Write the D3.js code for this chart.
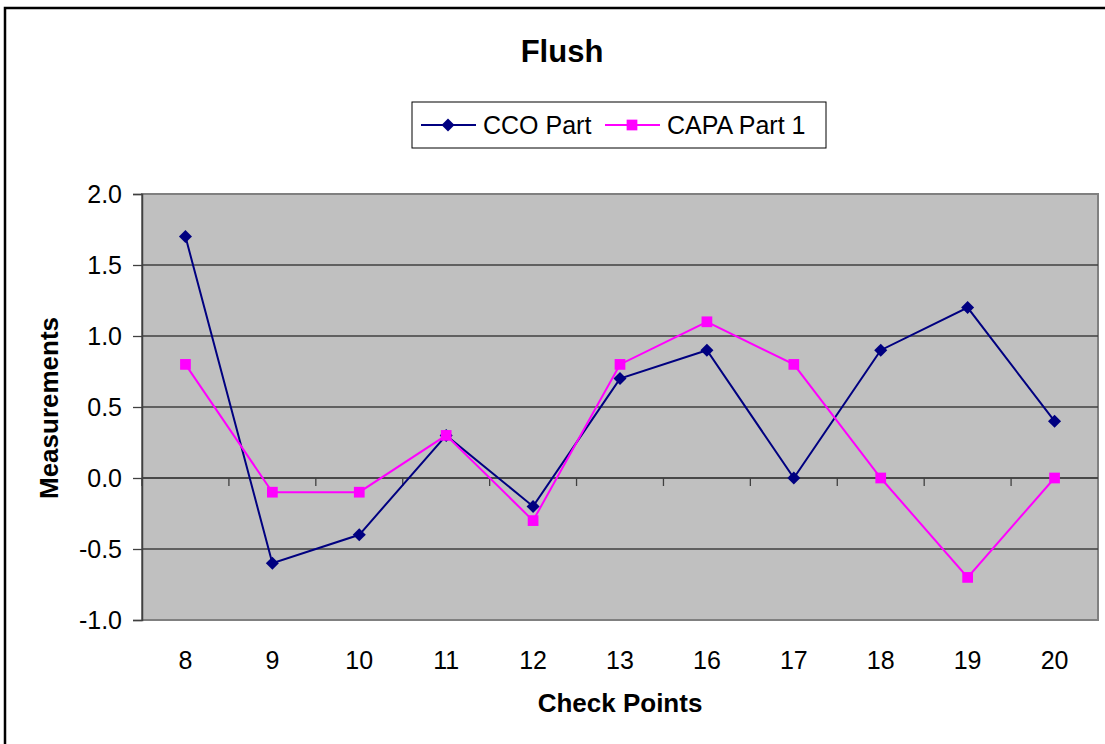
<!DOCTYPE html>
<html>
<head>
<meta charset="utf-8">
<script src="https://cdn.jsdelivr.net/npm/d3@7"></script>
<style>
	body{margin:0;background:#fff;}
	svg{display:block;font-family:"Liberation Sans",Arial,sans-serif;}
</style>
</head>
<body>
<svg id="graf" width="1105" height="744"></svg>
<script>
// datos del grafico
var puntos = ["8","9","10","11","12","13","16","17","18","19","20"];
var cco = [1.7,-0.6,-0.4,0.3,-0.2,0.7,0.9,0.0,0.9,1.2,0.4];
var capa = [0.8,-0.1,-0.1,0.3,-0.3,0.8,1.1,0.8,0.0,-0.7,0.0];
var yTicks = [-1.0,-0.5,0.0,0.5,1.0,1.5,2.0];

var lien = d3.select('#graf');

// marco exterior
lien.append("rect")
	.attr("x",5).attr("y",8)
	.attr("width",1120).attr("height",760)
	.attr("fill","#fff")
	.attr("stroke","black")
	.attr("stroke-width",2.5);

var izq=142, der=1098, arr=194, aba=620;

var x = d3.scaleBand().domain(puntos).range([izq,der]);
var y = d3.scaleLinear().domain([-1,2]).range([aba,arr]);

// fondo del area
lien.append("rect")
	.attr("x",izq).attr("y",arr)
	.attr("width",der-izq).attr("height",aba-arr)
	.attr("fill","#c0c0c0")
	.attr("stroke","#808080")
	.attr("stroke-width",2);

// lineas de rejilla
lien.append("g").selectAll("line")
	.data(yTicks.filter(function(d){return d>-1 && d<2;}))
	.enter().append("line")
	.attr("x1",izq).attr("x2",der)
	.attr("y1",function(d){return y(d);})
	.attr("y2",function(d){return y(d);})
	.attr("stroke","#404040")
	.attr("stroke-width",1.3);

// eje y
var fmt = d3.format(".1f");
var ejeY = lien.append("g")
	.attr("transform","translate("+izq+",0)")
	.call(d3.axisLeft(y).tickValues(yTicks)
		.tickFormat(function(d){return fmt(d).replace("\u2212","-");})
		.tickSize(9).tickPadding(11));
ejeY.attr("font-size",null).attr("font-family",null);
ejeY.select(".domain").attr("stroke","#404040").attr("stroke-width",1.5);
ejeY.selectAll(".tick line").attr("stroke","#404040").attr("stroke-width",1.3);
ejeY.selectAll("text").style("font-size","25px").attr("fill","black");

// eje x en el cero
var ejeX = lien.append("g")
	.attr("transform","translate(0,"+y(0)+")");
ejeX.append("line")
	.attr("x1",izq).attr("x2",der)
	.attr("y1",0).attr("y2",0)
	.attr("stroke","#404040").attr("stroke-width",1.5);
ejeX.selectAll("line.t")
	.data(puntos)
	.enter().append("line")
	.attr("class","t")
	.attr("x1",function(d){return x(d);})
	.attr("x2",function(d){return x(d);})
	.attr("y1",0).attr("y2",8)
	.attr("stroke","#404040").attr("stroke-width",1.3);

lien.append("g").selectAll("text")
	.data(puntos)
	.enter().append("text")
	.attr("x",function(d){return x(d)+x.bandwidth()/2;})
	.attr("y",669)
	.attr("text-anchor","middle")
	.style("font-size","25px")
	.text(function(d){return d;});

// marcadores
var rombo = d3.symbol().type(d3.symbolSquare).size(85);
var cuadro = d3.symbol().type(d3.symbolSquare).size(115);

// series
function serie(datos,color,simbolo,giro){
	var linea = d3.line()
		.x(function(d,i){return x(puntos[i])+x.bandwidth()/2;})
		.y(function(d){return y(d);});
	lien.append("path")
		.datum(datos)
		.attr("d",linea)
		.attr("fill","none")
		.attr("stroke",color)
		.attr("stroke-width",2);
	lien.append("g").selectAll("path")
		.data(datos)
		.enter().append("path")
		.attr("transform",function(d,i){return "translate("+(x(puntos[i])+x.bandwidth()/2)+","+y(d)+") rotate("+giro+")";})
		.attr("d",simbolo)
		.attr("fill",color);
}
serie(cco,"#000080",rombo,45);
serie(capa,"#ff00ff",cuadro,0);

// titulo
lien.append("text")
	.attr("x",562).attr("y",62)
	.attr("text-anchor","middle")
	.style("font-size","31px").attr("font-weight","bold")
	.text("Flush");

// leyenda
var ley = lien.append("g");
ley.append("rect")
	.attr("x",412).attr("y",102)
	.attr("width",414).attr("height",46)
	.attr("fill","#fff").attr("stroke","black").attr("stroke-width",1);
var items=[{n:"CCO Part",c:"#000080",s:rombo,g:45,x:421,t:483},{n:"CAPA Part 1",c:"#ff00ff",s:cuadro,g:0,x:605,t:667}];
items.forEach(function(it){
	ley.append("line")
		.attr("x1",it.x).attr("x2",it.x+55)
		.attr("y1",125).attr("y2",125)
		.attr("stroke",it.c).attr("stroke-width",2);
	ley.append("path")
		.attr("transform","translate("+(it.x+27)+",125) rotate("+it.g+")")
		.attr("d",it.s)
		.attr("fill",it.c);
	ley.append("text")
		.attr("x",it.t).attr("y",134)
		.style("font-size","25px")
		.text(it.n);
});

// titulos de ejes
lien.append("text")
	.attr("x",620).attr("y",712)
	.attr("text-anchor","middle")
	.style("font-size","26px").attr("font-weight","bold")
	.text("Check Points");
lien.append("text")
	.attr("transform","translate(58,408) rotate(-90)")
	.attr("text-anchor","middle")
	.style("font-size","26px").attr("font-weight","bold")
	.text("Measurements");
</script>
</body>
</html>
